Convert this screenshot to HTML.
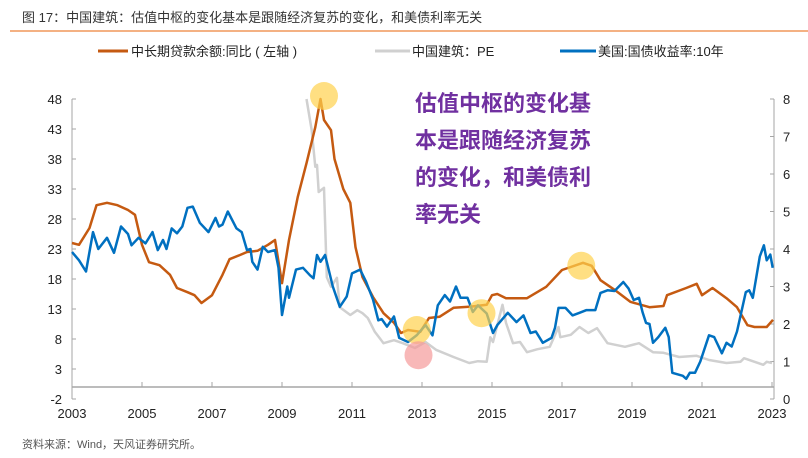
<!DOCTYPE html>
<html><head><meta charset="utf-8">
<style>
body{margin:0;background:#fff;width:808px;height:453px;overflow:hidden;font-family:"Liberation Sans","Noto Sans CJK SC",sans-serif;}
svg text{font-family:"Liberation Sans","Noto Sans CJK SC",sans-serif;}
</style></head>
<body>
<svg id="c" width="808" height="453">
<text x="22" y="22" font-size="13" fill="#333">图 17：中国建筑：估值中枢的变化基本是跟随经济复苏的变化，和美债利率无关</text>
<line x1="10" y1="31" x2="808" y2="31" stroke="#F4B183" stroke-width="2"/>
<g>
<g><line x1="98" y1="51" x2="128" y2="51" stroke="#C55A11" stroke-width="3"/><text x="131" y="56" font-size="13" fill="#222" xml:space="preserve">中长期贷款余额:同比 ( 左轴 )</text></g>
<g><line x1="375" y1="51" x2="410" y2="51" stroke="#D0D0D0" stroke-width="3"/><text x="412" y="56" font-size="13" fill="#222">中国建筑：PE</text></g>
<g><line x1="560" y1="51" x2="596" y2="51" stroke="#0070C0" stroke-width="3"/><text x="598" y="56" font-size="13" fill="#222">美国:国债收益率:10年</text></g>
</g>
<g id="axes"></g>
<g id="marks"></g>
<g font-size="22" font-weight="bold" fill="#7030A0">
<text x="415" y="111">估值中枢的变化基</text>
<text x="415" y="148">本是跟随经济复苏</text>
<text x="415" y="185">的变化，和美债利</text>
<text x="415" y="222">率无关</text>
</g>
<text x="22" y="448" font-size="11" fill="#555">资料来源：Wind，天风证券研究所。</text>
</svg>
<script>
const leftTicks=[48,43,38,33,28,23,18,13,8,3,-2];
const rightTicks=[8,7,6,5,4,3,2,1,0];
const xTicks=[2003,2005,2007,2009,2011,2013,2015,2017,2019,2021,2023];
const loanYears=[2003,2003.2,2003.5,2003.7,2004,2004.3,2004.6,2004.8,2005,2005.2,2005.5,2005.8,2006,2006.3,2006.5,2006.7,2007,2007.3,2007.5,2007.8,2008,2008.3,2008.6,2008.8,2009,2009.2,2009.45,2009.7,2009.95,2010.1,2010.2,2010.4,2010.5,2010.75,2010.95,2011.1,2011.3,2011.6,2011.9,2012.2,2012.4,2012.6,2012.95,2013.2,2013.5,2013.9,2014.4,2014.85,2015,2015.15,2015.4,2016,2016.55,2017,2017.6,2017.85,2018.1,2018.5,2018.95,2019.5,2019.9,2020,2020.55,2020.85,2021,2021.3,2021.7,2022,2022.3,2022.5,2022.85,2023.03];
const loanVals=[24,23.7,26.5,30.3,30.7,30.3,29.5,28.7,23.7,20.8,20.3,18.7,16.5,15.8,15.3,14,15.3,18.7,21.3,22,22.5,22.7,23.7,24.5,17.3,24.5,31.7,37.3,43.3,48,44.5,42.8,38,33,30.7,23.3,18.3,15,12.3,10.7,9,9.5,9.2,11.5,11.7,13.2,13.4,13.7,15.3,15.5,14.8,14.8,16.7,19.5,20.7,20.2,17.8,16.2,14.2,13.3,13.5,15.3,16.5,17.2,15.3,16.5,14.8,13.3,10.3,10,10,11.2];
const peYears=[2009.7,2009.85,2009.95,2010,2010.05,2010.2,2010.28,2010.4,2010.57,2010.65,2010.95,2011.15,2011.3,2011.45,2011.65,2011.9,2012.2,2012.45,2012.8,2013.1,2013.4,2013.9,2014.35,2014.6,2014.85,2014.95,2015.03,2015.3,2015.4,2015.6,2015.8,2016,2016.3,2016.65,2016.9,2016.95,2017.25,2017.5,2017.75,2018,2018.3,2018.8,2019,2019.2,2019.6,2019.9,2020.35,2020.85,2021.2,2021.7,2022.1,2022.2,2022.75,2022.85,2023];
const peVals=[48,42.8,36.7,37,32.5,33.2,18.3,16.7,18.2,13.3,12,12.8,12.3,11.5,9.2,7.3,7.8,7.3,6.5,7.5,6.2,5,4,4.3,4.2,8.3,7.5,13.7,10.7,7.3,7.5,5.8,6.3,6.7,10,8.3,8.7,10,9,9.8,7.3,6.7,7,7.3,5.8,5.7,5,5.2,4.5,4,4.2,4.8,3.7,4.2,4];
const ustYears=[2003,2003.2,2003.4,2003.6,2003.75,2004,2004.2,2004.4,2004.6,2004.7,2004.9,2005.1,2005.3,2005.45,2005.6,2005.7,2005.85,2006,2006.15,2006.3,2006.45,2006.65,2006.9,2007.1,2007.2,2007.3,2007.45,2007.7,2007.85,2008,2008.1,2008.15,2008.3,2008.45,2008.6,2008.8,2008.9,2009,2009.15,2009.2,2009.4,2009.6,2009.8,2009.9,2010,2010.1,2010.23,2010.45,2010.65,2010.85,2011,2011.23,2011.4,2011.6,2011.75,2011.85,2012,2012.2,2012.35,2012.6,2012.85,2013.1,2013.3,2013.45,2013.65,2013.8,2013.97,2014.1,2014.3,2014.45,2014.6,2014.85,2015.03,2015.15,2015.45,2015.7,2015.9,2016.1,2016.25,2016.45,2016.7,2016.8,2016.9,2017.1,2017.3,2017.5,2017.7,2017.95,2018.1,2018.3,2018.5,2018.75,2018.9,2019.05,2019.2,2019.3,2019.4,2019.5,2019.6,2019.75,2019.95,2020.05,2020.15,2020.45,2020.55,2020.65,2020.8,2020.95,2021.2,2021.35,2021.57,2021.7,2021.85,2022,2022.25,2022.35,2022.45,2022.65,2022.77,2022.85,2022.95,2023.02];
const ustVals=[3.92,3.7,3.4,4.45,4.0,4.3,3.9,4.6,4.4,4.1,4.3,4.15,4.45,3.97,4.24,4.0,4.55,4.42,4.6,5.1,5.13,4.7,4.45,4.83,4.6,4.65,5.0,4.55,4.45,3.97,4.0,3.66,3.45,4.06,3.92,3.97,3.5,2.24,3.0,2.7,3.45,3.5,3.3,3.22,3.84,3.66,3.84,3.0,2.46,2.73,3.35,3.45,3.13,2.65,2.1,2.13,1.93,2.2,1.63,1.52,1.7,1.97,1.7,2.5,2.77,2.6,3.0,2.7,2.7,2.32,2.5,2.28,1.76,1.97,2.3,2.05,2.23,1.76,1.8,1.5,1.63,1.9,2.43,2.43,2.23,2.3,2.37,2.37,2.83,2.9,2.88,3.12,2.95,2.64,2.7,2.32,2.03,2.0,1.5,1.65,1.9,1.65,0.7,0.62,0.54,0.7,0.7,1.0,1.7,1.65,1.22,1.5,1.4,1.8,2.85,2.9,2.7,3.8,4.1,3.7,3.85,3.5];
const highlightYears=[2010.2,2012.85,2012.9,2014.7,2017.55];
const highlightVals=[48.5,9.5,5.3,12.3,20.2];
const highlightKinds=['y','y','p','y','y'];

const X0=72,XW=35,Y0=399;
const xs=y=>X0+(y-2003)*XW;
const yl=v=>Y0-(v+2)*6;
const yr=v=>Y0-v*37.5;
const NS='http://www.w3.org/2000/svg';
function mk(tag,parent,attrs){const e=document.createElementNS(NS,tag);for(const k in attrs)e.setAttribute(k,attrs[k]);parent.appendChild(e);return e;}
const ax=document.getElementById('axes'),mg=document.getElementById('marks');
const g='#A6A6A6';
let e=mk('line',ax,{x1:X0,y1:99,x2:X0,y2:399,stroke:g});


e=mk('line',ax,{x1:774,y1:99,x2:774,y2:399,stroke:g});


e=mk('line',ax,{x1:X0,y1:yl(0),x2:774,y2:yl(0),stroke:g,'stroke-width':1.5});


leftTicks.forEach(v=>{mk('line',ax,{x1:X0,y1:yl(v),x2:X0+4,y2:yl(v),stroke:g});
 e=mk('text',ax,{x:X0-10,y:yl(v)+5,'font-size':13,'text-anchor':'end',fill:'#222'});e.textContent=v;
 
 });
rightTicks.forEach(v=>{mk('line',ax,{x1:774,y1:yr(v),x2:770,y2:yr(v),stroke:g});
 e=mk('text',ax,{x:783,y:yr(v)+5,'font-size':13,fill:'#222'});e.textContent=v;
 
 });
xTicks.forEach(v=>{mk('line',ax,{x1:xs(v),y1:yl(0),x2:xs(v),y2:yl(0)-5,stroke:g});
 e=mk('text',ax,{x:xs(v),y:418,'font-size':13,'text-anchor':'middle',fill:'#222'});e.textContent=v;
 
 });
function line(ys,vs,f,col,name){const d=ys.map((y,i)=>(i?'L':'M')+xs(y).toFixed(1)+','+f(vs[i]).toFixed(1)).join('');
 const p=mk('path',mg,{d:d,fill:'none',stroke:col,'stroke-width':2.5,'stroke-linejoin':'round'});
 
 }
line(peYears,peVals,yl,'#D0D0D0','pe-line');
line(loanYears,loanVals,yl,'#C55A11','loan-growth-line');
line(ustYears,ustVals,yr,'#0070C0','ust-10y-line');
highlightYears.forEach((y,i)=>{const c=mk('circle',mg,{cx:xs(y),cy:yl(highlightVals[i]),r:14,fill:highlightKinds[i]=='y'?'#FFD24D':'#F59A9A','fill-opacity':0.7});
 
 });
</script>
</body></html>
